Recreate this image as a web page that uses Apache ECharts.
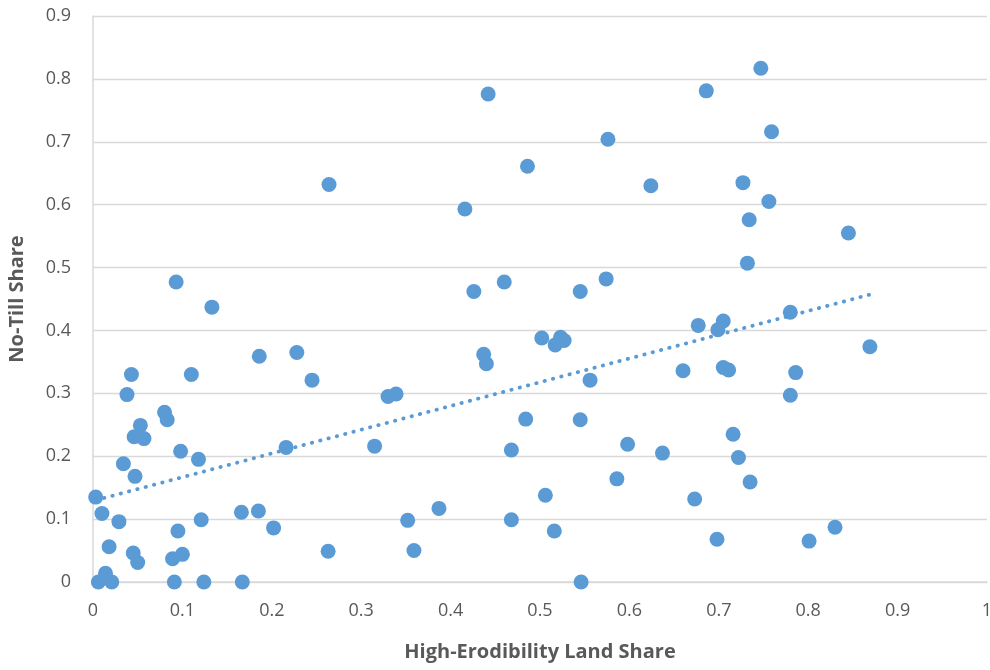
<!DOCTYPE html>
<html>
<head>
<meta charset="utf-8">
<script src="https://cdn.jsdelivr.net/npm/echarts@6/dist/echarts.min.js"></script>
<style>
html,body{margin:0;padding:0;background:#fff;overflow:hidden;}
#chart{width:990px;height:670px;}
</style>
</head>
<body>
<div id="chart"></div>
<script>
// High-Erodibility Land Share (x) values
const xValues = [
  0.003, 0.010, 0.006, 0.014, 0.021, 0.018, 0.029, 0.034, 0.038, 0.043,
  0.046, 0.047, 0.045, 0.050, 0.053, 0.057, 0.080, 0.083, 0.093, 0.098,
  0.089, 0.095, 0.100, 0.091, 0.110, 0.118, 0.121, 0.124, 0.133, 0.166,
  0.167, 0.185, 0.186, 0.202, 0.216, 0.228, 0.245, 0.264, 0.263, 0.315,
  0.330, 0.339, 0.352, 0.359, 0.387, 0.416, 0.426, 0.442, 0.437, 0.440,
  0.460, 0.484, 0.486, 0.468, 0.468, 0.502, 0.506, 0.517, 0.516, 0.523,
  0.527, 0.545, 0.545, 0.546, 0.556, 0.574, 0.576, 0.586, 0.598, 0.624,
  0.637, 0.660, 0.673, 0.677, 0.686, 0.698, 0.699, 0.705, 0.705, 0.711,
  0.716, 0.722, 0.727, 0.734, 0.732, 0.735, 0.747, 0.756, 0.759, 0.780,
  0.780, 0.786, 0.801, 0.830, 0.845, 0.869
];
// No-Till Share (y) values
const yValues = [
  0.135, 0.109, 0.000, 0.014, 0.000, 0.056, 0.096, 0.188, 0.298, 0.330,
  0.231, 0.168, 0.046, 0.031, 0.249, 0.228, 0.270, 0.258, 0.477, 0.208,
  0.037, 0.081, 0.044, 0.000, 0.330, 0.195, 0.099, 0.000, 0.437, 0.111,
  0.000, 0.113, 0.359, 0.086, 0.214, 0.365, 0.321, 0.632, 0.049, 0.216,
  0.295, 0.299, 0.098, 0.050, 0.117, 0.593, 0.462, 0.776, 0.362, 0.347,
  0.477, 0.259, 0.661, 0.210, 0.099, 0.388, 0.138, 0.377, 0.081, 0.389,
  0.384, 0.462, 0.258, 0.000, 0.321, 0.482, 0.704, 0.164, 0.219, 0.630,
  0.205, 0.336, 0.132, 0.408, 0.781, 0.068, 0.401, 0.415, 0.341, 0.337,
  0.235, 0.198, 0.635, 0.576, 0.507, 0.159, 0.817, 0.605, 0.716, 0.429,
  0.297, 0.333, 0.065, 0.087, 0.555, 0.374
];
// Linear trendline end values
const trendX = [0.003, 0.869];
const trendY = [0.130, 0.457];
const xTicks = ['0','0.1','0.2','0.3','0.4','0.5','0.6','0.7','0.8','0.9','1'];
const yTicks = ['0','0.1','0.2','0.3','0.4','0.5','0.6','0.7','0.8','0.9'];
const xTitle = 'High-Erodibility Land Share';
const yTitle = 'No-Till Share';

const points = xValues.map((x, i) => [x, yValues[i]]);
const trend = trendX.map((x, i) => [x, trendY[i]]);

const FONT = 'Open Sans';
const GRAY = '#595959';
const chart = echarts.init(document.getElementById('chart'), null, {renderer: 'canvas'});
chart.setOption({
  animation: false,
  backgroundColor: '#ffffff',
  grid: {left: 93, right: 3, top: 16, bottom: 88, containLabel: false, outerBoundsMode: 'none'},
  xAxis: {
    type: 'value', min: 0, max: 1, interval: 0.1,
    name: xTitle, nameLocation: 'middle', nameGap: 60,
    nameTextStyle: {fontFamily: FONT, fontSize: 20, fontWeight: 'bold', color: GRAY},
    axisLine: {show: true, lineStyle: {color: '#d9d9d9', width: 1.5}},
    axisTick: {show: false},
    splitLine: {show: false},
    axisLabel: {
      fontFamily: FONT, fontSize: 18, color: GRAY, margin: 20,
      formatter: (v) => xTicks[Math.round(v * 10)]
    }
  },
  yAxis: {
    type: 'value', min: 0, max: 0.9, interval: 0.1,
    name: yTitle, nameLocation: 'middle', nameGap: 66, nameRotate: 90,
    nameTextStyle: {fontFamily: FONT, fontSize: 20, fontWeight: 'bold', color: GRAY},
    axisLine: {show: true, lineStyle: {color: '#d9d9d9', width: 1.5}},
    axisTick: {show: false},
    splitLine: {show: true, lineStyle: {color: '#d9d9d9', width: 1.3}},
    axisLabel: {
      fontFamily: FONT, fontSize: 18, color: GRAY, margin: 22,
      formatter: (v) => yTicks[Math.round(v * 10)]
    }
  },
  series: [
    {
      type: 'scatter',
      data: points,
      symbol: 'circle',
      symbolSize: 15,
      itemStyle: {color: '#5B9BD5', opacity: 1},
      z: 2
    },
    {
      type: 'line',
      data: trend,
      showSymbol: false,
      symbol: 'none',
      silent: true,
      lineStyle: {color: '#5B9BD5', width: 3.8, type: [0.4, 8.2], cap: 'round'},
      z: 3
    }
  ]
});
</script>
</body>
</html>
